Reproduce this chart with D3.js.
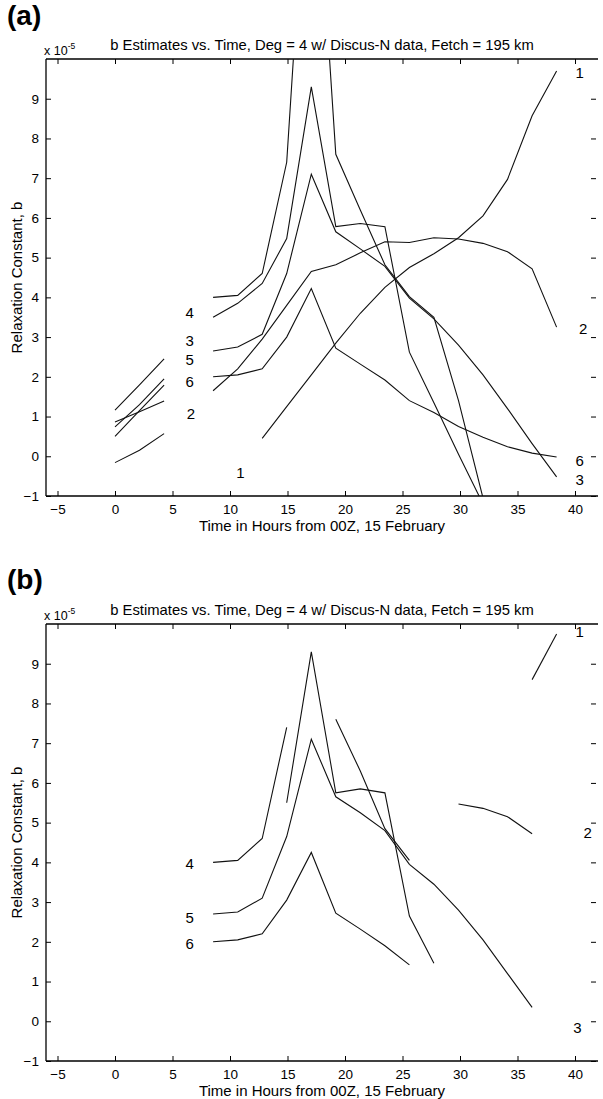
<!DOCTYPE html>
<html><head><meta charset="utf-8">
<script src="https://cdn.jsdelivr.net/npm/d3@7"></script>
<style>
body{margin:0;background:#fff}
text{font-family:"Liberation Sans",Arial,Helvetica,sans-serif;fill:#000}
</style>
</head><body>
<svg id="c" width="603" height="1099"></svg>
<script>
// ---------- data ----------
const titleText = "b Estimates vs. Time, Deg = 4 w/ Discus-N data, Fetch = 195 km";
const xLabel = "Time in Hours from 00Z, 15 February";
const yLabel = "Relaxation Constant, b";
const xTicks = [-5, 0, 5, 10, 15, 20, 25, 30, 35, 40];
const yTicks = [-1, 0, 1, 2, 3, 4, 5, 6, 7, 8, 9];
const xDomain = [-6, 42];
const yDomain = [-1, 10];

// sample times (hours)
const tEarly = [0, 2.13, 4.27];
const tMain = [8.53, 10.67, 12.8, 14.93, 17.07, 19.2, 21.33, 23.47, 25.6, 27.73, 29.87, 32.0, 34.13, 36.27, 38.4];

// panel (a): early segments (at tEarly)
const aEarly1 = [-0.16, 0.15, 0.57];
const aEarly2 = [0.86, 1.12, 1.39];
const aEarly3 = [1.16, 1.8, 2.45];
const aEarly4 = [0.74, 1.3, 1.95];
const aEarly5 = [0.5, 1.15, 1.79];
// panel (a): main series (start index into tMain)
const a1 = [0.45, 1.25, 2.05, 2.85, 3.6, 4.25, 4.75, 5.1, 5.5, 6.05, 6.97, 8.57, 9.7]; const a1Start = 2;
const a2 = [1.65, 2.2, 2.95, 3.8, 4.65, 4.82, 5.12, 5.4, 5.38, 5.5, 5.47, 5.36, 5.15, 4.72, 3.25]; const a2Start = 0;
const a3 = [3.5, 3.85, 4.35, 5.48, 9.3, 5.78, 5.86, 5.78, 2.62, 1.35, 0.05, -1.2]; const a3Start = 0;
const a4 = [4.0, 4.05, 4.6, 7.4, 17.0, 7.6, 6.2, 4.82, 4.02, 3.5, 1.4, -1.05]; const a4Start = 0;
const a5 = [2.65, 2.75, 3.07, 4.6, 7.1, 5.65, 5.22, 4.78, 3.98, 3.46, 2.8, 2.05, 1.2, 0.32, -0.52]; const a5Start = 0;
const a6 = [2.0, 2.05, 2.2, 3.0, 4.22, 2.72, 2.32, 1.92, 1.4, 1.1, 0.75, 0.48, 0.24, 0.08, -0.02]; const a6Start = 0;
// panel (a) curve labels: [text, hour, value]
const aLabels = [["4", 6.5, 3.63], ["3", 6.5, 2.92], ["5", 6.5, 2.44], ["6", 6.5, 1.89], ["2", 6.6, 1.08],
  ["1", 10.9, -0.4], ["1", 40.4, 9.65], ["2", 40.7, 3.22], ["6", 40.4, -0.1], ["3", 40.4, -0.58]];

// panel (b): series pieces
const b4a = [4.0, 4.05, 4.6, 7.4]; const b4aStart = 0;
const b4b = [7.6, 6.3, 4.85, 4.05]; const b4bStart = 5;
const b3 = [5.5, 9.3, 5.75, 5.85, 5.75, 2.65, 1.46]; const b3Start = 3;
const b5 = [2.7, 2.75, 3.1, 4.65, 7.1, 5.65, 5.25, 4.8, 3.95, 3.45, 2.8, 2.05, 1.2, 0.35]; const b5Start = 0;
const b6 = [2.0, 2.05, 2.2, 3.05, 4.25, 2.72, 2.32, 1.9, 1.42]; const b6Start = 0;
const b2 = [5.47, 5.36, 5.15, 4.72]; const b2Start = 10;
const b1 = [8.6, 9.75]; const b1Start = 13;
const bLabels = [["4", 6.5, 3.98], ["5", 6.5, 2.62], ["6", 6.5, 1.96],
  ["1", 40.4, 9.8], ["2", 41.1, 4.74], ["3", 40.2, -0.15]];

// ---------- drawing ----------
const svg = d3.select("#c");
const L = 46, R = 598;

function seg(vals, times) { return vals.map((v, i) => [times[i], v]); }
function mainSeg(vals, start) { return vals.map((v, i) => [tMain[start + i], v]); }

function drawPanel(id, top, bottom, letter, letterY, series, labels) {
  const x = d3.scaleLinear().domain(xDomain).range([L, R]);
  const y = d3.scaleLinear().domain(yDomain).range([bottom, top]);
  const g = svg.append("g");

  g.append("defs").append("clipPath").attr("id", "clip" + id)
    .append("rect").attr("x", L).attr("y", top).attr("width", R - L).attr("height", bottom - top);

  const ax = (a) => a.tickSizeOuter(0);
  const gb = g.append("g").attr("transform", `translate(0,${bottom})`)
    .call(ax(d3.axisBottom(x).tickValues(xTicks).tickSize(-5).tickPadding(8).tickFormat(d3.format("d"))));
  const gt = g.append("g").attr("transform", `translate(0,${top})`)
    .call(ax(d3.axisTop(x).tickValues(xTicks).tickSize(-5).tickFormat("")));
  const gl = g.append("g").attr("transform", `translate(${L},0)`)
    .call(ax(d3.axisLeft(y).tickValues(yTicks).tickSize(-5).tickPadding(7).tickFormat(d3.format("d"))));
  const gr = g.append("g").attr("transform", `translate(${R - 2},0)`)
    .call(ax(d3.axisRight(y).tickValues(yTicks).tickSize(-5).tickFormat("")));
  gr.select(".domain").remove();
  [gb, gt, gl, gr].forEach(a => {
    a.selectAll(".domain").attr("stroke", "#000").attr("stroke-width", 1.3);
    a.selectAll(".tick line").attr("stroke", "#000").attr("stroke-width", 1);
    a.selectAll("text").attr("font-size", 13.5).attr("font-family", "Liberation Sans, Arial, sans-serif").attr("fill", "#000");
  });
  gb.selectAll(".domain").attr("d", `M${L},0H${R}`);
  gt.selectAll(".domain").attr("d", `M${L},0H${R}`);
  gl.selectAll(".domain").attr("d", `M0,${bottom}V${top}`);

  const line = d3.line().x(d => x(d[0])).y(d => y(d[1]));
  g.append("g").attr("clip-path", `url(#clip${id})`)
    .selectAll("path").data(series).join("path")
    .attr("d", line).attr("fill", "none").attr("stroke", "#111").attr("stroke-width", 1.1);

  g.selectAll("text.lab").data(labels).join("text").attr("class", "lab")
    .attr("x", d => x(d[1])).attr("y", d => y(d[2]))
    .attr("text-anchor", "middle").attr("dominant-baseline", "central")
    .attr("font-size", 15).text(d => d[0]);

  g.append("text").attr("x", (L + R) / 2).attr("y", top - 9).attr("text-anchor", "middle")
    .attr("font-size", 14.8).text(titleText);
  const ex = g.append("text").attr("x", L - 2).attr("y", top - 4.5).attr("font-size", 12.5);
  ex.append("tspan").text("x 10");
  ex.append("tspan").attr("dy", -6).attr("font-size", 8.5).text("-5");

  g.append("text").attr("x", 7).attr("y", letterY).attr("font-size", 28).attr("font-weight", "bold")
    .text(letter);

  g.append("text").attr("x", (L + R) / 2).attr("y", bottom + 35).attr("text-anchor", "middle")
    .attr("font-size", 15).text(xLabel);
  g.append("text").attr("transform", `translate(22,${(top + bottom) / 2}) rotate(-90)`)
    .attr("text-anchor", "middle").attr("font-size", 15).text(yLabel);
}

const seriesA = [
  seg(aEarly1, tEarly), seg(aEarly2, tEarly), seg(aEarly3, tEarly), seg(aEarly4, tEarly), seg(aEarly5, tEarly),
  mainSeg(a1, a1Start), mainSeg(a2, a2Start), mainSeg(a3, a3Start),
  mainSeg(a4, a4Start), mainSeg(a5, a5Start), mainSeg(a6, a6Start)
];
const seriesB = [
  mainSeg(b4a, b4aStart), mainSeg(b4b, b4bStart), mainSeg(b3, b3Start), mainSeg(b5, b5Start),
  mainSeg(b6, b6Start), mainSeg(b2, b2Start), mainSeg(b1, b1Start)
];

drawPanel("a", 59, 496, "(a)", 25, seriesA, aLabels);
drawPanel("b", 624, 1061, "(b)", 589, seriesB, bLabels);
</script>
</body></html>
